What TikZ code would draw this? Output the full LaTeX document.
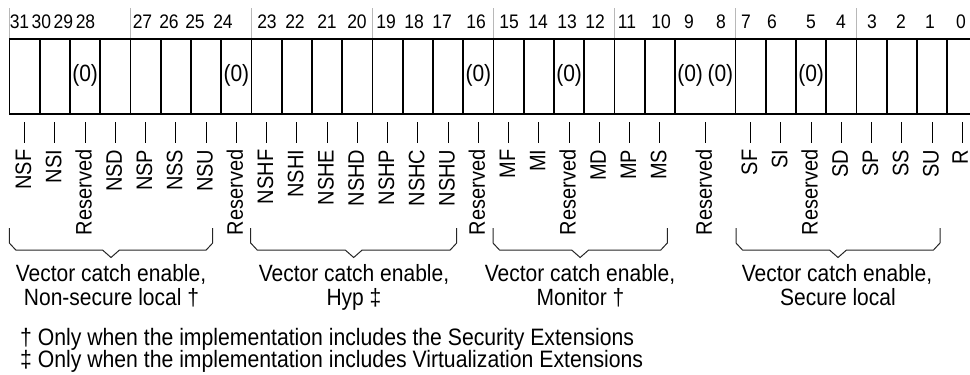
\documentclass[tikz,border=0pt]{standalone}
\usepackage{graphicx}
\usepackage{fontspec}
\setmainfont{Liberation Sans}
\newcommand{\vstr}[1]{\scalebox{1}[1.12]{#1}}
\begin{document}
\begin{tikzpicture}[x=1pt,y=-1pt,
  boxline/.style={line width=1.8pt},
  nibbleline/.style={draw=black!28, line width=0.9pt},
  bitnum/.style={font=\fontsize{17.5}{20}\selectfont, anchor=base, inner sep=0pt},
  zerotxt/.style={font=\fontsize{21}{24}\selectfont, anchor=base, inner sep=0pt},
  fieldlbl/.style={font=\fontsize{20}{24}\selectfont, rotate=90, anchor=base east, inner sep=0pt},
  tickline/.style={line width=1pt},
  grpline/.style={line width=1pt, black!85},
  grptext/.style={font=\fontsize{21}{24}\selectfont, anchor=base, inner sep=0pt},
  notetext/.style={font=\fontsize{21.2}{24}\selectfont, anchor=base west, inner sep=0pt}
]
\useasboundingbox (0,0) rectangle (970,375);

% nibble separators above the register
\foreach \k in {0,4,...,28} {
  \draw[nibbleline] (9.5+30.25*\k,8) -- (9.5+30.25*\k,39);
}

% bit numbers
\foreach \b/\x in {31/19.5,30/41.3,29/63.3,28/85.5,27/142.5,26/169,25/195,24/223,
  23/267,22/295,21/327,20/357,19/386,18/414,17/442,16/476,
  15/509,14/538,13/567,12/595,11/627,10/661,9/689,8/721,
  7/746,6/772,5/811,4/841,3/872,2/901,1/930,0/961} {
  \node[bitnum] (n\b) at (\x,28) {\vstr{\b}};
}

% register box
\draw[boxline] (9.5,39) rectangle (977.5,114.3);
\foreach \k in {1,...,22,24,25,...,31} {
  \draw[boxline] (9.5+30.25*\k,39) -- (9.5+30.25*\k,114.3);
}

% (0) marks
\foreach \b in {29,24,16,13,9,8,5} {
  \node[zerotxt] (z\b) at ({24.625+30.25*(31-\b)},81.5) {\vstr{(0)}};
}

% field labels with ticks
\foreach \b/\t/\dx [count=\i] in {31/NSF/6.5,30/NSI/6.5,29/Reserved/6.5,28/NSD/6.5,27/NSP/6.5,26/NSS/6.5,25/NSU/6.5,24/Reserved/6.5,
  23/NSHF/6.5,22/NSHI/6.5,21/NSHE/6.5,20/NSHD/6.5,19/NSHP/6.5,18/NSHC/6.5,17/NSHU/6.5,16/Reserved/6.5,
  15/MF/6.5,14/MI/6.5,13/Reserved/6.5,12/MD/6.5,11/MP/6.5,10/MS/6.5,8.5/Reserved/6.5,
  7/SF/6.5,6/SI/6.5,5/Reserved/6.5,4/SD/6.5,3/SP/6.5,2/SS/6.5,1/SU/6.5,0/R/5.5} {
  \pgfmathsetmacro\cx{24.625+30.25*(31-\b)}
  \coordinate (ta\i) at (\cx,122);
  \coordinate (tb\i) at (\cx,143);
  \draw[tickline] (ta\i) -- (tb\i);
  \node[fieldlbl] (f\i) at (\cx+\dx,149.5) {\vstr{\t}};
}

% group braces
\foreach \i/\L/\R in {1/9.3/212.7, 2/250.7/456.7, 3/493/667.3, 4/736/940} {
  \pgfmathsetmacro\C{(\L+\R)/2}
  \draw[grpline] (\L,228) -- (\L,243) -- (\L+6.5,250) -- (\C-8.5,250) -- (\C,257.5)
     -- (\C+8.5,250) -- (\R-6.5,250) -- (\R,243) -- (\R,228);
  \coordinate (g\i) at (\C,257.5);
}

\node[grptext] (ga1) at (111,281.7) {\vstr{Vector catch enable,}};
\node[grptext] (gb1) at (111.5,305) {\vstr{Non-secure local †}};
\node[grptext] (ga2) at (354,281.7) {\vstr{Vector catch enable,}};
\node[grptext] (gb2) at (354,305) {\vstr{Hyp ‡}};
\node[grptext] (ga3) at (580,281.7) {\vstr{Vector catch enable,}};
\node[grptext] (gb3) at (580.5,305) {\vstr{Monitor †}};
\node[grptext] (ga4) at (837,281.7) {\vstr{Vector catch enable,}};
\node[grptext] (gb4) at (838,305) {\vstr{Secure local}};

\node[notetext] (fn1) at (20,345) {\vstr{† Only when the implementation includes the Security Extensions}};
\node[notetext] (fn2) at (20,367) {\vstr{‡ Only when the implementation includes Virtualization Extensions}};
\end{tikzpicture}
\end{document}
